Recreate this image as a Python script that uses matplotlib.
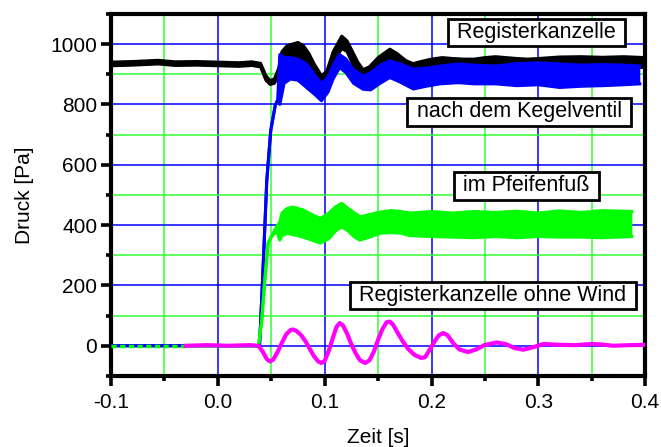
import matplotlib
matplotlib.use("Agg")
import matplotlib.pyplot as plt
from matplotlib.ticker import MultipleLocator, FormatStrFormatter

plt.rcParams['font.family'] = ['Liberation Sans', 'DejaVu Sans']
plt.rcParams['axes.unicode_minus'] = False

# ---- data ----
black_x = [-0.1, -0.08, -0.056, -0.04, -0.02, 0.0, 0.02, 0.032, 0.04, 0.045, 0.049, 0.053, 0.057,
           0.06, 0.065, 0.07, 0.075, 0.08, 0.085, 0.09, 0.097, 0.102, 0.108, 0.116, 0.121, 0.126,
           0.131, 0.136, 0.142, 0.15, 0.161, 0.168, 0.176, 0.183, 0.19, 0.2, 0.21, 0.22, 0.23,
           0.24, 0.25, 0.26, 0.27, 0.28, 0.29, 0.3, 0.32, 0.34, 0.36, 0.38, 0.4]
black_hi = [940, 942, 946, 941, 942, 940, 938, 941, 936, 895, 878, 885, 920,
            975, 995, 1000, 1005, 995, 970, 935, 895, 910, 975, 1026, 1010, 975,
            940, 915, 925, 955, 983, 968, 945, 935, 942, 950, 955, 952, 950,
            950, 955, 958, 955, 952, 950, 952, 957, 958, 956, 958, 955]
black_lo = [928, 930, 934, 929, 930, 928, 926, 929, 924, 880, 866, 870, 900,
            940, 955, 960, 955, 950, 930, 900, 875, 885, 940, 985, 975, 935,
            905, 895, 905, 925, 950, 935, 915, 911, 915, 922, 925, 922, 920,
            918, 922, 925, 925, 922, 920, 922, 925, 925, 922, 925, 922]

blue_x = [-0.1, 0.039, 0.042, 0.0458, 0.0495, 0.0536, 0.056, 0.058, 0.062, 0.068, 0.075, 0.083,
          0.09, 0.097, 0.103, 0.108, 0.114, 0.12, 0.127, 0.136, 0.143, 0.152, 0.161, 0.17,
          0.183, 0.195, 0.208, 0.225, 0.24, 0.26, 0.28, 0.3, 0.32, 0.34, 0.36, 0.38, 0.395]
blue_hi = [0, 0, 230, 548, 713, 795, 815, 965, 955, 955, 950, 934,
           900, 868, 890, 930, 965, 950, 915, 894, 905, 930, 944, 935,
           917, 920, 927, 934, 930, 927, 935, 938, 934, 930, 932, 930, 927]
blue_lo = [0, 0, 230, 548, 713, 795, 815, 800, 870, 884, 880, 856,
           835, 812, 840, 885, 922, 905, 870, 850, 848, 870, 889, 875,
           851, 860, 868, 872, 868, 868, 862, 865, 856, 860, 862, 865, 868]

green_x = [-0.027, 0.038, 0.041, 0.044, 0.047, 0.05, 0.055, 0.058, 0.06, 0.065, 0.07, 0.075, 0.08,
           0.088, 0.096, 0.104, 0.11, 0.116, 0.122, 0.128, 0.133, 0.142, 0.152, 0.162,
           0.171, 0.18, 0.2, 0.22, 0.24, 0.26, 0.28, 0.3, 0.32, 0.34, 0.36, 0.3876]
green_hi = [0, 0, 80, 220, 340, 361, 395, 410, 440, 455, 460, 455, 450,
            435, 422, 440, 460, 472, 455, 440, 427, 435, 443, 448,
            445, 440, 445, 440, 445, 442, 446, 440, 447, 442, 448, 445]
green_lo = [0, 0, 80, 220, 340, 361, 380, 350, 365, 372, 368, 365, 360,
            350, 340, 355, 380, 394, 380, 360, 350, 360, 373, 375,
            373, 365, 362, 360, 358, 362, 358, 362, 360, 360, 358, 362]
green_pre_x = [-0.1, -0.027]
green_pre_y = [0, 0]

mag_x = [-0.03, -0.01, 0.01, 0.03, 0.038, 0.042, 0.046, 0.049, 0.052, 0.056, 0.06, 0.064, 0.068,
         0.0705, 0.074, 0.078, 0.082, 0.086, 0.09, 0.094, 0.097, 0.1, 0.104, 0.108, 0.111,
         0.114, 0.117, 0.121, 0.125, 0.129, 0.133, 0.138, 0.142, 0.146, 0.15, 0.154, 0.158,
         0.161, 0.164, 0.168, 0.173, 0.178, 0.184, 0.19, 0.194, 0.198, 0.203, 0.207, 0.211,
         0.215, 0.22, 0.226, 0.234, 0.242, 0.25, 0.261, 0.27, 0.278, 0.286, 0.295, 0.305,
         0.32, 0.335, 0.35, 0.36, 0.37, 0.385, 0.4]
mag_y = [0, 2, 0, 2, 0, -20, -45, -52, -45, -20, 10, 38, 52,
         54, 48, 35, 15, -10, -35, -52, -57, -50, -15, 30, 62,
         75, 68, 40, 5, -25, -48, -57, -48, -20, 20, 55, 78,
         80, 70, 45, 15, -10, -30, -40, -38, -15, 15, 35, 42,
         35, 10, -12, -21, -12, 3, 11, 5, -8, -13, -5, 6,
         3, 2, 6, 4, 0, 2, 3]

labels = ["Registerkanzelle", "nach dem Kegelventil", "im Pfeifenfuß", "Registerkanzelle ohne Wind"]
label_pos = [(0.797, 0.949), (0.764, 0.729), (0.778, 0.525), (0.715, 0.222)]

xticks = [-0.1, 0.0, 0.1, 0.2, 0.3, 0.4]
yticks = [0, 200, 400, 600, 800, 1000]

# ---- figure ----
fig = plt.figure(figsize=(6.61, 4.47), dpi=100)
ax = fig.add_axes([0.168, 0.159, 0.808, 0.810])

ax.set_xlim(-0.1, 0.4)
ax.set_ylim(-100, 1100)
ax.set_xticks(xticks)
ax.set_yticks(yticks)
ax.xaxis.set_major_formatter(FormatStrFormatter('%.1f'))
ax.xaxis.set_minor_locator(MultipleLocator(0.05))
ax.yaxis.set_minor_locator(MultipleLocator(100))

ax.set_axisbelow(True)
ax.grid(which='major', color='#0000ff', lw=1.1)
ax.grid(which='minor', color='#33ff33', lw=1.1)

def band(x, lo, hi, color, z):
    ax.fill_between(x, lo, hi, color=color, lw=0, zorder=z)
    ax.plot(x, hi, color=color, lw=2.2, zorder=z)
    ax.plot(x, lo, color=color, lw=2.2, zorder=z)

band(black_x, black_lo, black_hi, 'black', 2)
band(blue_x, blue_lo, blue_hi, '#0000ff', 3)
ax.plot(green_pre_x, green_pre_y, color='#00ff00', lw=2.5, ls=(0, (1.5, 1.0)), zorder=4)
band(green_x, green_lo, green_hi, '#00ff00', 4)
ax.plot(mag_x, mag_y, color='#ff00ff', lw=3.0, zorder=5)

for s in ax.spines.values():
    s.set_linewidth(3.0)
ax.tick_params(which='major', direction='out', length=7, width=2.6, labelsize=15, pad=3)
ax.tick_params(which='minor', direction='out', length=3.5, width=2.6)
ax.tick_params(axis='x', which='major', pad=5)

for t, (px, py) in zip(labels, label_pos):
    ax.text(px, py, " " + t + " ", transform=ax.transAxes, ha='center', va='center', fontsize=15.5,
            zorder=10,
            bbox=dict(boxstyle='square,pad=0.15', fc='white', ec='black', lw=2.0))

ax.set_xlabel("Zeit [s]", fontsize=15, labelpad=12)
ax.set_ylabel("Druck [Pa]", fontsize=15, labelpad=12)

fig.savefig("out.png", dpi=100)
